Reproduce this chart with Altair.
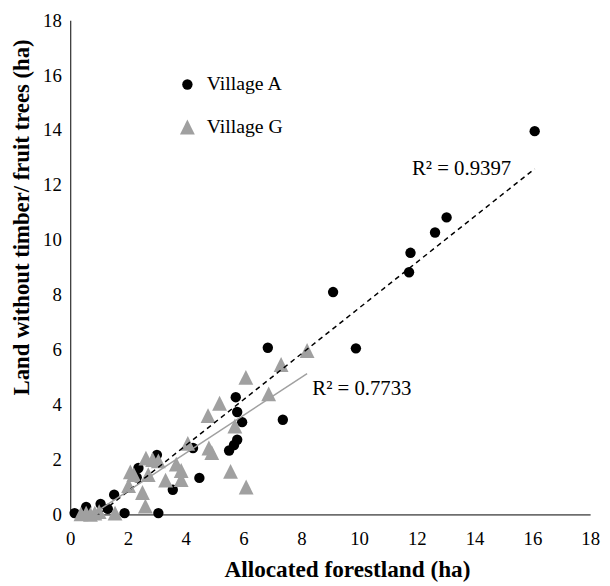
import altair as alt
import pandas as pd

series = ["Village A", "Village G"]

a_x = [0.15, 0.55, 1.05, 1.3, 1.52, 1.88, 2.3, 2.36, 3.0, 3.05, 3.55, 4.25, 4.47,
       5.5, 5.67, 5.78, 5.95, 5.78, 5.73, 6.84, 7.36, 9.1, 9.89, 11.73, 11.78,
       12.63, 13.03, 16.08]
a_y = [0.05, 0.27, 0.38, 0.2, 0.72, 0.05, 1.35, 1.69, 2.17, 0.05, 0.9, 2.42, 1.33,
       2.33, 2.53, 2.72, 3.36, 3.73, 4.27, 6.07, 3.45, 8.1, 6.05, 8.82, 9.53,
       10.27, 10.82, 13.96]

g_x = [0.37, 0.55, 0.7, 0.85, 1.0, 1.55, 2.02, 2.08, 2.2, 2.5, 2.6, 2.62, 2.7,
       2.85, 3.05, 3.3, 3.67, 3.84, 3.84, 4.07, 4.8, 4.9, 4.77, 5.17, 5.55, 5.7,
       6.08, 6.09, 6.87, 7.3, 8.2]
g_y = [0.02, 0.05, 0.0, 0.05, 0.1, 0.05, 1.05, 1.55, 1.45, 0.8, 0.3, 2.05, 1.45,
       2.0, 1.95, 1.25, 1.83, 1.6, 1.27, 2.59, 2.42, 2.25, 3.6, 4.05, 1.57, 3.22,
       4.99, 1.0, 4.39, 5.46, 5.97]

# linear trendlines (Excel), end points
trend_a_x = [0.15, 16.08]
trend_a_y = [-0.70, 12.59]
trend_g_x = [0.37, 8.2]
trend_g_y = [-0.27, 5.13]

r2_text = ["R\u00b2 = 0.9397", "R\u00b2 = 0.7733"]
r2_x = [11.83, 8.38]
r2_y = [12.57, 4.57]

ticks = list(range(0, 19, 2))

df = pd.DataFrame({
    "x": a_x + g_x,
    "y": a_y + g_y,
    "village": [series[0]] * len(a_x) + [series[1]] * len(g_x),
})
ta = pd.DataFrame({"x": trend_a_x, "y": trend_a_y})
tg = pd.DataFrame({"x": trend_g_x, "y": trend_g_y})
lab = pd.DataFrame({"x": r2_x, "y": r2_y, "t": r2_text})

FONT = "Liberation Serif"
xs = alt.Scale(domain=[0, 18], nice=False, zero=False)
ys = alt.Scale(domain=[0, 18], nice=False, zero=False)

legend = alt.Legend(
    title=None, orient="none", legendX=108.5, legendY=55, padding=0,
    labelFont=FONT, labelFontSize=20, labelColor="black", symbolSize=120,
    rowPadding=23, labelOffset=9.5, symbolStrokeWidth=0, symbolOpacity=1,
)

points = alt.Chart(df).mark_point(filled=True, opacity=1, strokeWidth=0).encode(
    x=alt.X("x:Q", scale=xs, axis=alt.Axis(
        values=ticks, title="Allocated forestland (ha)", labelPadding=15,
        titleX=280, titleY=63, titleAlign="center", titleBaseline="alphabetic")),
    y=alt.Y("y:Q", scale=ys, axis=alt.Axis(
        values=ticks, title="Land without timber/ fruit trees (ha)", labelPadding=9,
        titleAngle=270, titleX=-42, titleY=199, titleAlign="center",
        titleBaseline="alphabetic", titleFontSize=23)),
    color=alt.Color("village:N", scale=alt.Scale(domain=series, range=["#000000", "#a0a0a0"]),
                    legend=legend),
    shape=alt.Shape("village:N", scale=alt.Scale(domain=series, range=["circle", "M0,-1L1,1L-1,1Z"]),
                    legend=legend),
    size=alt.Size("village:N", scale=alt.Scale(domain=series, range=[110, 225]), legend=None),
)

trend_a = alt.Chart(ta).mark_line(color="black", strokeDash=[5, 4], strokeWidth=1.5, clip=True).encode(
    x=alt.X("x:Q", scale=xs), y=alt.Y("y:Q", scale=ys))

trend_g = alt.Chart(tg).mark_line(color="#a0a0a0", strokeWidth=1.5, clip=True).encode(
    x=alt.X("x:Q", scale=xs), y=alt.Y("y:Q", scale=ys))

labels = alt.Chart(lab).mark_text(
    align="left", baseline="middle", font=FONT, fontSize=21, color="black").encode(
    x=alt.X("x:Q", scale=xs), y=alt.Y("y:Q", scale=ys), text="t:N")

chart = alt.layer(points, trend_a, trend_g, labels).properties(
    width=526, height=500,
    autosize=alt.AutoSizeParams(type="none"),
    padding={"left": 63, "top": 9, "right": 12, "bottom": 68},
).configure_view(stroke=None).configure_axis(
    domainColor="black", domainWidth=1, ticks=False, tickSize=0, grid=False,
    labelFont=FONT, labelFontSize=19, labelColor="black",
    labelFlush=False, labelOverlap=False,
    titleFont=FONT, titleFontSize=23.5, titleFontWeight="bold", titleColor="black",
)

chart.save("out.html", embed_options={"renderer": "svg", "actions": False})
